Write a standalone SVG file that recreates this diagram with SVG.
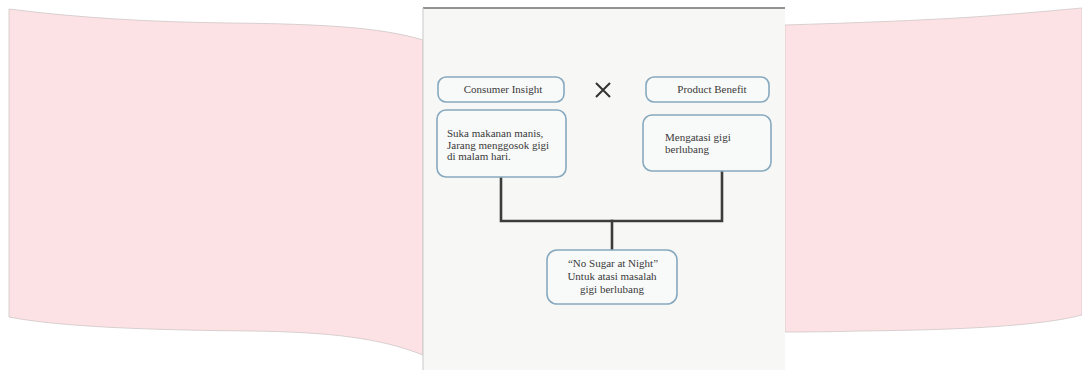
<svg xmlns="http://www.w3.org/2000/svg" width="1082" height="370" viewBox="0 0 1082 370">
<style>
.pink{fill:#fde2e5;stroke:#cfc6c7;stroke-width:0.8}
.box{fill:#f8f9f9;stroke:#86a9bf;stroke-width:1.6}
.t{font-family:"Liberation Serif",serif;font-size:11px;fill:#3a3a3a}
.c{stroke:#3c3c3c;stroke-width:2.6;fill:none;stroke-linecap:square}
</style>
<rect width="1082" height="370" fill="#ffffff"/>
<g id="bg">
<path class="pink" d="M9,9 C80,18 150,22 230,23 C320,24 380,27 423,40 L423,355 C380,338 330,332 250,331 C150,330 60,327 9,317 Z"/>
<path class="pink" d="M785,25 C850,23 940,20 1000,15 C1040,12 1070,9 1082,8 L1082,315 C1040,326 960,330 860,331 C820,332 800,332 785,332 Z"/>
<rect x="423" y="8" width="362" height="362" fill="#f7f7f5"/>
<line x1="423" y1="8" x2="785" y2="8" stroke="#6f6f6f" stroke-width="1.5"/>
<line x1="423" y1="8" x2="423" y2="370" stroke="#c9c9c9" stroke-width="1"/>
</g>
<g id="connectors">
<polyline class="c" points="501,177 501,221 722,221 722,171"/>
<line class="c" x1="612" y1="221" x2="612" y2="249"/>
</g>
<g id="consumer-insight">
<rect class="box" x="438" y="77" width="126" height="25" rx="8"/>
<text class="t" x="503" y="93" text-anchor="middle" font-size="10">Consumer Insight</text>
</g>
<g id="times">
<path d="M596,83 L610,97 M610,83 L596,97" stroke="#333" stroke-width="2" fill="none"/>
</g>
<g id="product-benefit">
<rect class="box" x="646" y="77" width="123" height="25" rx="8"/>
<text class="t" x="712" y="93" text-anchor="middle" font-size="10">Product Benefit</text>
</g>
<g id="insight-detail">
<rect class="box" x="437" y="110" width="129" height="67" rx="9"/>
<text class="t" x="447" y="137" font-size="11.5">Suka makanan manis,</text>
<text class="t" x="447" y="149" font-size="11.5">Jarang menggosok gigi</text>
<text class="t" x="447" y="160" font-size="11.5">di malam hari.</text>
</g>
<g id="benefit-detail">
<rect class="box" x="643" y="115" width="128" height="56" rx="9"/>
<text class="t" x="665" y="141">Mengatasi gigi</text>
<text class="t" x="665" y="153">berlubang</text>
</g>
<g id="result">
<rect class="box" x="547" y="250" width="130" height="54" rx="10"/>
<text class="t" x="613" y="267" text-anchor="middle">“No Sugar at Night”</text>
<text class="t" x="612" y="280" text-anchor="middle">Untuk atasi masalah</text>
<text class="t" x="612" y="293" text-anchor="middle">gigi berlubang</text>
</g>
</svg>
